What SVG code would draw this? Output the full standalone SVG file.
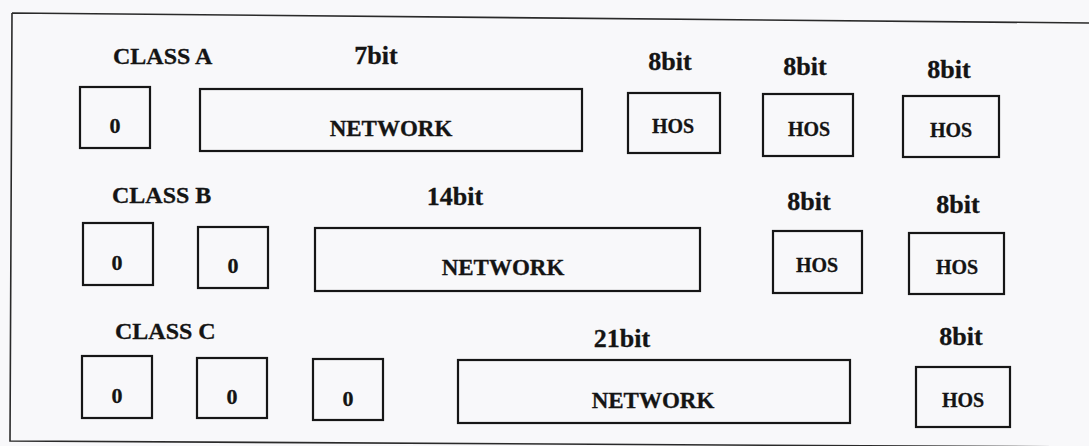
<svg xmlns="http://www.w3.org/2000/svg" width="1089" height="446" viewBox="0 0 1089 446">
  <style>
    .box { fill: none; stroke: #161616; stroke-width: 2.2; }
    .frame { fill: none; stroke: #2a2a2a; stroke-width: 1.6; }
    .t { font-family: "Liberation Serif", "DejaVu Serif", serif; font-weight: bold; fill: #141414; stroke: #141414; stroke-width: 0.3; }
    .cls { font-size: 24px; }
    .bits { font-size: 26px; text-anchor: middle; }
    .net { font-size: 23px; text-anchor: middle; }
    .hos { font-size: 20px; text-anchor: middle; }
    .zero { font-size: 22px; text-anchor: middle; }
  </style>

  <rect x="0" y="0" width="1089" height="446" fill="#f8f8fa"/>

  <!-- outer frame (open on the right) -->
  <path class="frame" d="M12,13 L1089,23 M12,13 L10,441 L1089,447"/>

  <!-- Class A: 0 | 7-bit network | 3 x 8-bit host -->
  <g id="class-a">
    <text class="t cls" x="113" y="64">CLASS A</text>
    <text class="t bits" x="376" y="64">7bit</text>
    <text class="t bits" x="670" y="70">8bit</text>
    <text class="t bits" x="805" y="75">8bit</text>
    <text class="t bits" x="949" y="78">8bit</text>
  </g>
  <g id="a-bit0"><rect class="box" x="80" y="87" width="70" height="61"/><text class="t zero" x="115" y="133">0</text></g>
  <g id="a-network"><rect class="box" x="200" y="89" width="382" height="62"/><text class="t net" x="391" y="136">NETWORK</text></g>
  <g id="a-host1"><rect class="box" x="628" y="93" width="92" height="60"/><text class="t hos" x="673" y="133">HOS</text></g>
  <g id="a-host2"><rect class="box" x="763" y="94" width="90" height="62"/><text class="t hos" x="809" y="136">HOS</text></g>
  <g id="a-host3"><rect class="box" x="903" y="96" width="96" height="61"/><text class="t hos" x="951" y="137">HOS</text></g>

  <!-- Class B: 0 0 | 14-bit network | 2 x 8-bit host -->
  <g id="class-b">
    <text class="t cls" x="112" y="203">CLASS B</text>
    <text class="t bits" x="455" y="205">14bit</text>
    <text class="t bits" x="809" y="210">8bit</text>
    <text class="t bits" x="958" y="213">8bit</text>
  </g>
  <g id="b-bit0"><rect class="box" x="83" y="223" width="70" height="62"/><text class="t zero" x="117" y="270">0</text></g>
  <g id="b-bit1"><rect class="box" x="198" y="227" width="70" height="61"/><text class="t zero" x="233" y="273">0</text></g>
  <g id="b-network"><rect class="box" x="315" y="228" width="385" height="63"/><text class="t net" x="503" y="275">NETWORK</text></g>
  <g id="b-host1"><rect class="box" x="773" y="231" width="89" height="62"/><text class="t hos" x="817" y="272">HOS</text></g>
  <g id="b-host2"><rect class="box" x="909" y="233" width="95" height="61"/><text class="t hos" x="957" y="274">HOS</text></g>

  <!-- Class C: 0 0 0 | 21-bit network | 8-bit host -->
  <g id="class-c">
    <text class="t cls" x="115" y="339">CLASS C</text>
    <text class="t bits" x="622" y="347">21bit</text>
    <text class="t bits" x="961" y="345">8bit</text>
  </g>
  <g id="c-bit0"><rect class="box" x="82" y="356" width="70" height="62"/><text class="t zero" x="117" y="403">0</text></g>
  <g id="c-bit1"><rect class="box" x="197" y="358" width="70" height="60"/><text class="t zero" x="232" y="404">0</text></g>
  <g id="c-bit2"><rect class="box" x="313" y="359" width="70" height="61"/><text class="t zero" x="348" y="406">0</text></g>
  <g id="c-network"><rect class="box" x="458" y="360" width="392" height="63"/><text class="t net" x="653" y="408">NETWORK</text></g>
  <g id="c-host"><rect class="box" x="916" y="367" width="94" height="60"/><text class="t hos" x="963" y="407">HOS</text></g>
</svg>
